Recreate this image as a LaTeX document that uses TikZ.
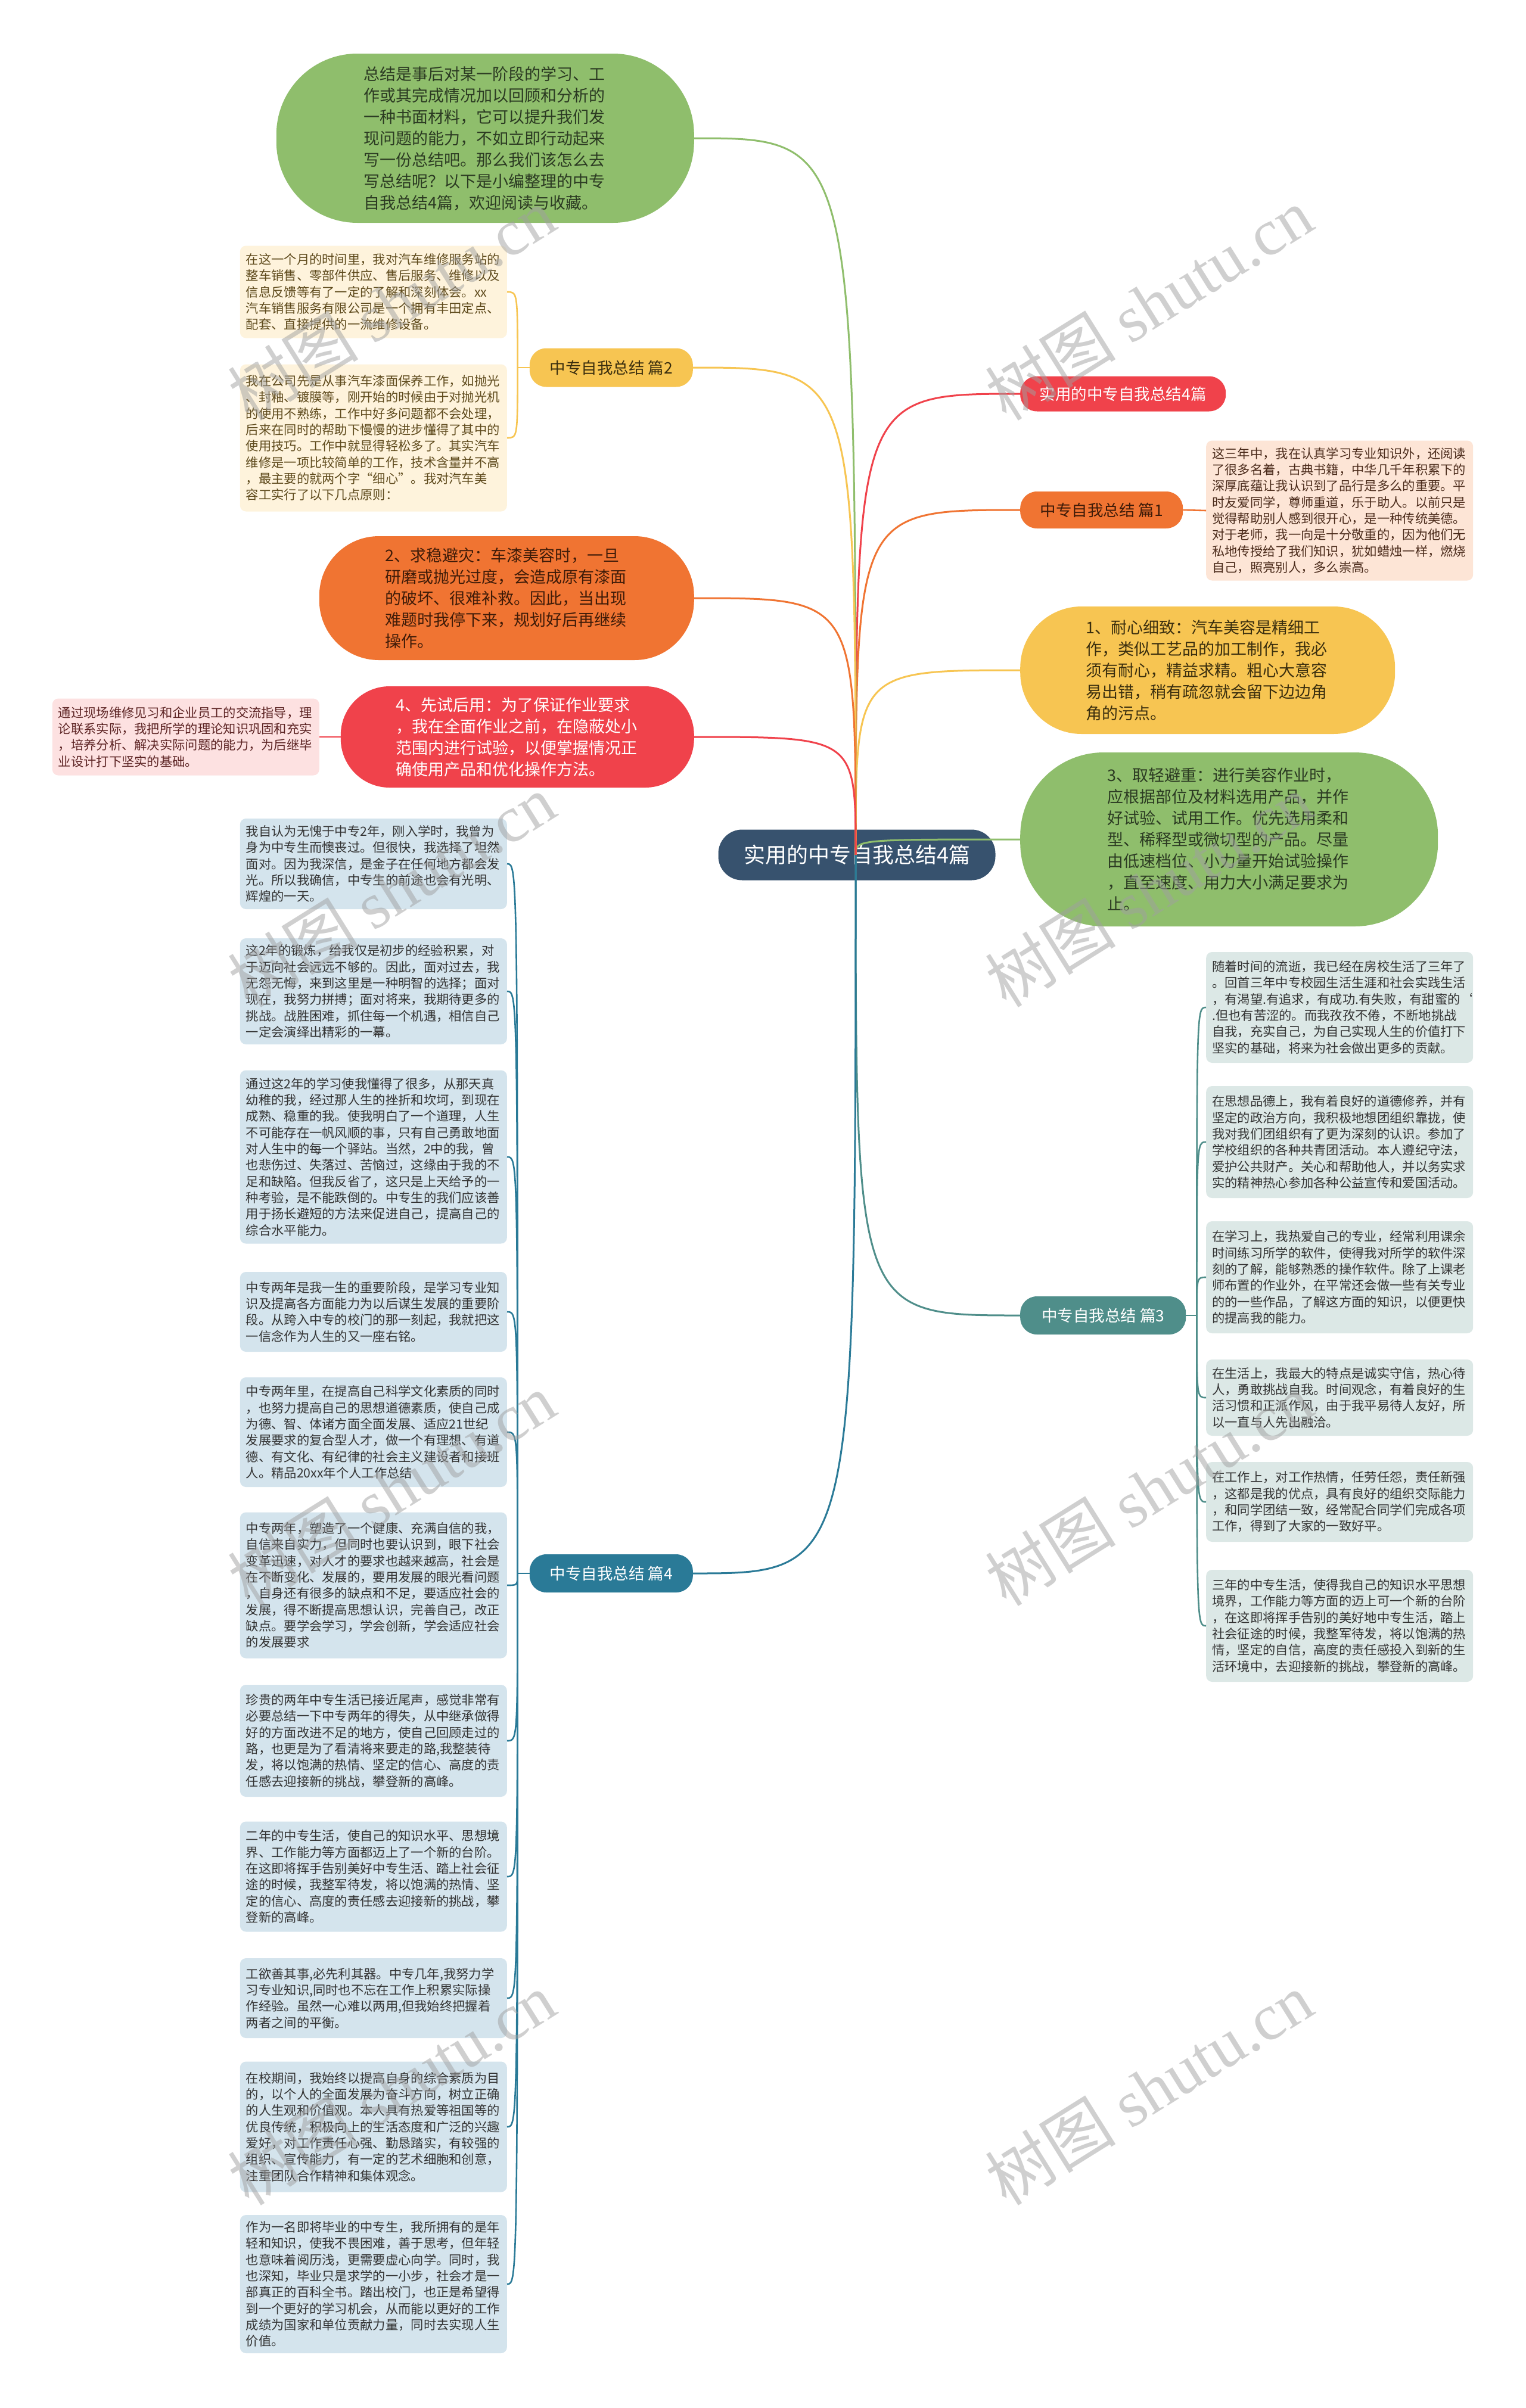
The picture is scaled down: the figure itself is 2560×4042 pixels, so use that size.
\documentclass[tikz,border=0pt]{standalone}
\usepackage{fontspec}
\setmainfont{Noto Sans CJK SC}
\newfontfamily\wmserif{Liberation Serif}
\usetikzlibrary{calc,backgrounds}

\definecolor{rootblue}{HTML}{37526E}
\definecolor{brred}{HTML}{F0424B}
\definecolor{brorange}{HTML}{F07432}
\definecolor{bryellow}{HTML}{F7C552}
\definecolor{brgreen}{HTML}{8FBE6C}
\definecolor{brteal}{HTML}{4F8E8A}
\definecolor{brblue}{HTML}{2A7A97}
\definecolor{lfcream}{HTML}{FEF3DC}
\definecolor{lfpeach}{HTML}{FDE5D6}
\definecolor{lfpink}{HTML}{FDE1E1}
\definecolor{lfteal}{HTML}{DCE8E6}
\definecolor{lfblue}{HTML}{D4E4ED}
\definecolor{txbrown}{HTML}{5E4A1C}
\definecolor{txpeach}{HTML}{4A2A1A}
\definecolor{txpink}{HTML}{5C2323}
\definecolor{txorange}{HTML}{3E1B08}
\definecolor{txyellow}{HTML}{3A2E0E}
\definecolor{txgreen}{HTML}{2B3A22}
\definecolor{txdark}{HTML}{333333}
\definecolor{wmgray}{HTML}{A0A0A0}

\tikzset{
  leaf/.style={rounded corners=10pt, inner xsep=10pt, inner ysep=6pt,
    text width=428pt, align=left, font=\fontsize{21.3}{27.3}\selectfont},
  bubble/.style={inner sep=0pt, text width=408pt, align=left,
    font=\fontsize{27}{36}\selectfont},
  topic/.style={rounded corners=28pt, inner sep=0pt, align=center,
    font=\fontsize{26.5}{30}\selectfont},
  link/.style={line width=3pt},
  twig/.style={line width=2.6pt},
  wmark/.style={rotate=32, text=wmgray, opacity=0.5,
    font=\fontsize{110}{110}\selectfont}
}

\begin{document}
\begin{tikzpicture}[x=1pt,y=-1pt]
  \useasboundingbox (0,0) rectangle (2560,4042);
  \begin{scope}[on background layer]
    \fill[white] (0,0) rectangle (2560,4042);
  \end{scope}

  % root
  \node[rounded corners=40pt, fill=rootblue, text=white, minimum width=465pt,
    minimum height=85pt, font=\fontsize{36}{40}\selectfont] (root) at (1438,1435)
    {实用的中专自我总结4篇};
  \coordinate (hub) at (1436,1435);

  % right side
  \node[topic, fill=brred, text=white, minimum width=345pt, minimum height=59pt,
    anchor=west] (title) at (1712,661) {实用的中专自我总结4篇};
  \node[topic, fill=brorange, text=txorange, minimum width=273pt, minimum height=62pt,
    anchor=west] (sum1) at (1712,856) {中专自我总结 篇1};
  \node[leaf, fill=lfpeach, text=txpeach, minimum height=235pt, anchor=west]
    (sum1a) at (2024,857) {这三年中，我在认真学习专业知识外，还阅读\\
    了很多名着，古典书籍，中华几千年积累下的\\
    深厚底蕴让我认识到了品行是多么的重要。平\\
    时友爱同学，尊师重道，乐于助人。以前只是\\
    觉得帮助别人感到很开心，是一种传统美德。\\
    对于老师，我一向是十分敬重的，因为他们无\\
    私地传授给了我们知识，犹如蜡烛一样，燃烧\\
    自己，照亮别人，多么崇高。};
  \node[bubble, fill=bryellow, text=txyellow, rounded corners=103pt,
    minimum width=629pt, minimum height=214pt, anchor=west] (tip1) at (1712,1125)
    {1、耐心细致：汽车美容是精细工\\
    作，类似工艺品的加工制作，我必\\
    须有耐心，精益求精。粗心大意容\\
    易出错，稍有疏忽就会留下边边角\\
    角的污点。};
  \node[bubble, fill=brgreen, text=txgreen, rounded corners=140pt,
    minimum width=701pt, minimum height=292pt, anchor=west] (tip3) at (1712,1409)
    {3、取轻避重：进行美容作业时，\\
    应根据部位及材料选用产品，并作\\
    好试验、试用工作。优先选用柔和\\
    型、稀释型或微切型的产品。尽量\\
    由低速档位、小力量开始试验操作\\
    ，直至速度、用力大小满足要求为\\
    止。};
  \node[topic, fill=brteal, text=white, minimum width=278pt, minimum height=64pt,
    anchor=west] (sum3) at (1712,2208) {中专自我总结 篇3};
  \node[leaf, fill=lfteal, text=txdark, minimum height=186pt, anchor=west]
    (sum3a) at (2024,1691) {随着时间的流逝，我已经在房校生活了三年了\\
    。回首三年中专校园生活生涯和社会实践生活\\
    ，有渴望.有追求，有成功.有失败，有甜蜜的\symbol{96}\\
    .但也有苦涩的。而我孜孜不倦，不断地挑战\\
    自我，充实自己，为自己实现人生的价值打下\\
    坚实的基础，将来为社会做出更多的贡献。};
  \node[leaf, fill=lfteal, text=txdark, minimum height=188pt, anchor=west]
    (sum3b) at (2024,1917) {在思想品德上，我有着良好的道德修养，并有\\
    坚定的政治方向，我积极地想团组织靠拢，使\\
    我对我们团组织有了更为深刻的认识。参加了\\
    学校组织的各种共青团活动。本人遵纪守法，\\
    爱护公共财产。关心和帮助他人，并以务实求\\
    实的精神热心参加各种公益宣传和爱国活动。};
  \node[leaf, fill=lfteal, text=txdark, minimum height=188pt, anchor=west]
    (sum3c) at (2024,2144) {在学习上，我热爱自己的专业，经常利用课余\\
    时间练习所学的软件，使得我对所学的软件深\\
    刻的了解，能够熟悉的操作软件。除了上课老\\
    师布置的作业外，在平常还会做一些有关专业\\
    的的一些作品，了解这方面的知识，以便更快\\
    的提高我的能力。};
  \node[leaf, fill=lfteal, text=txdark, minimum height=128pt, anchor=west]
    (sum3d) at (2024,2346) {在生活上，我最大的特点是诚实守信，热心待\\
    人，勇敢挑战自我。时间观念，有着良好的生\\
    活习惯和正派作风，由于我平易待人友好，所\\
    以一直与人先出融洽。};
  \node[leaf, fill=lfteal, text=txdark, minimum height=134pt, anchor=west]
    (sum3e) at (2024,2521) {在工作上，对工作热情，任劳任怨，责任新强\\
    ，这都是我的优点，具有良好的组织交际能力\\
    ，和同学团结一致，经常配合同学们完成各项\\
    工作，得到了大家的一致好平。};
  \node[leaf, fill=lfteal, text=txdark, minimum height=188pt, anchor=west]
    (sum3f) at (2024,2729) {三年的中专生活，使得我自己的知识水平思想\\
    境界，工作能力等方面的迈上可一个新的台阶\\
    ，在这即将挥手告别的美好地中专生活，踏上\\
    社会征途的时候，我整军待发，将以饱满的热\\
    情，坚定的自信，高度的责任感投入到新的生\\
    活环境中，去迎接新的挑战，攀登新的高峰。};

  % left side
  \node[bubble, fill=brgreen, text=txgreen, rounded corners=136pt,
    minimum width=701pt, minimum height=284pt, anchor=east] (intro) at (1165,232)
    {总结是事后对某一阶段的学习、工\\
    作或其完成情况加以回顾和分析的\\
    一种书面材料，它可以提升我们发\\
    现问题的能力，不如立即行动起来\\
    写一份总结吧。那么我们该怎么去\\
    写总结呢？以下是小编整理的中专\\
    自我总结4篇，欢迎阅读与收藏。};
  \node[topic, fill=bryellow, text=txyellow, minimum width=274pt, minimum height=65pt,
    anchor=east] (sum2) at (1163,617) {中专自我总结 篇2};
  \node[leaf, fill=lfcream, text=txbrown, minimum height=155pt, anchor=east]
    (sum2a) at (851,490) {在这一个月的时间里，我对汽车维修服务站的\\
    整车销售、零部件供应、售后服务、维修以及\\
    信息反馈等有了一定的了解和深刻体会。xx\\
    汽车销售服务有限公司是一个拥有丰田定点、\\
    配套、直接提供的一流维修设备。};
  \node[leaf, fill=lfcream, text=txbrown, minimum height=247pt, anchor=east]
    (sum2b) at (851,735) {我在公司先是从事汽车漆面保养工作，如抛光\\
    、封釉、镀膜等，刚开始的时候由于对抛光机\\
    的使用不熟练，工作中好多问题都不会处理，\\
    后来在同时的帮助下慢慢的进步懂得了其中的\\
    使用技巧。工作中就显得轻松多了。其实汽车\\
    维修是一项比较简单的工作，技术含量并不高\\
    ，最主要的就两个字“细心”。我对汽车美\\
    容工实行了以下几点原则：};
  \node[bubble, fill=brorange, text=txorange, rounded corners=100pt,
    minimum width=629pt, minimum height=208pt, anchor=east] (tip2) at (1165,1004)
    {2、求稳避灾：车漆美容时，一旦\\
    研磨或抛光过度，会造成原有漆面\\
    的破坏、很难补救。因此，当出现\\
    难题时我停下来，规划好后再继续\\
    操作。};
  \node[bubble, fill=brred, text=white, rounded corners=82pt,
    minimum width=593pt, minimum height=170pt, anchor=east] (tip4) at (1165,1237)
    {4、先试后用：为了保证作业要求\\
    ，我在全面作业之前，在隐蔽处小\\
    范围内进行试验，以便掌握情况正\\
    确使用产品和优化操作方法。};
  \node[leaf, fill=lfpink, text=txpink, minimum height=129pt, anchor=east]
    (tip4a) at (536,1237) {通过现场维修见习和企业员工的交流指导，理\\
    论联系实际，我把所学的理论知识巩固和充实\\
    ，培养分析、解决实际问题的能力，为后继毕\\
    业设计打下坚实的基础。};
  \node[topic, fill=brblue, text=white, minimum width=274pt, minimum height=64pt,
    anchor=east] (sum4) at (1163,2641) {中专自我总结 篇4};
  \node[leaf, fill=lfblue, text=txdark, minimum height=152pt, anchor=east]
    (sum4a) at (851,1450) {我自认为无愧于中专2年，刚入学时，我曾为\\
    身为中专生而懊丧过。但很快，我选择了坦然\\
    面对。因为我深信，是金子在任何地方都会发\\
    光。所以我确信，中专生的前途也会有光明、\\
    辉煌的一天。};
  \node[leaf, fill=lfblue, text=txdark, minimum height=178pt, anchor=east]
    (sum4b) at (851,1664) {这2年的锻炼，给我仅是初步的经验积累，对\\
    于迈向社会远远不够的。因此，面对过去，我\\
    无怨无悔，来到这里是一种明智的选择；面对\\
    现在，我努力拼搏；面对将来，我期待更多的\\
    挑战。战胜困难，抓住每一个机遇，相信自己\\
    一定会演绎出精彩的一幕。};
  \node[leaf, fill=lfblue, text=txdark, minimum height=291pt, anchor=east]
    (sum4c) at (851,1942) {通过这2年的学习使我懂得了很多，从那天真\\
    幼稚的我，经过那人生的挫折和坎坷，到现在\\
    成熟、稳重的我。使我明白了一个道理，人生\\
    不可能存在一帆风顺的事，只有自己勇敢地面\\
    对人生中的每一个驿站。当然，2中的我，曾\\
    也悲伤过、失落过、苦恼过，这缘由于我的不\\
    足和缺陷。但我反省了，这只是上天给予的一\\
    种考验，是不能跌倒的。中专生的我们应该善\\
    用于扬长避短的方法来促进自己，提高自己的\\
    综合水平能力。};
  \node[leaf, fill=lfblue, text=txdark, minimum height=134pt, anchor=east]
    (sum4d) at (851,2202) {中专两年是我一生的重要阶段，是学习专业知\\
    识及提高各方面能力为以后谋生发展的重要阶\\
    段。从跨入中专的校门的那一刻起，我就把这\\
    一信念作为人生的又一座右铭。};
  \node[leaf, fill=lfblue, text=txdark, minimum height=184pt, anchor=east]
    (sum4e) at (851,2404) {中专两年里，在提高自己科学文化素质的同时\\
    ，也努力提高自己的思想道德素质，使自己成\\
    为德、智、体诸方面全面发展、适应21世纪\\
    发展要求的复合型人才，做一个有理想、有道\\
    德、有文化、有纪律的社会主义建设者和接班\\
    人。精品20xx年个人工作总结};
  \node[leaf, fill=lfblue, text=txdark, minimum height=245pt, anchor=east]
    (sum4f) at (851,2661) {中专两年，塑造了一个健康、充满自信的我，\\
    自信来自实力，但同时也要认识到，眼下社会\\
    变革迅速，对人才的要求也越来越高，社会是\\
    在不断变化、发展的，要用发展的眼光看问题\\
    ，自身还有很多的缺点和不足，要适应社会的\\
    发展，得不断提高思想认识，完善自己，改正\\
    缺点。要学会学习，学会创新，学会适应社会\\
    的发展要求};
  \node[leaf, fill=lfblue, text=txdark, minimum height=188pt, anchor=east]
    (sum4g) at (851,2922) {珍贵的两年中专生活已接近尾声，感觉非常有\\
    必要总结一下中专两年的得失，从中继承做得\\
    好的方面改进不足的地方，使自己回顾走过的\\
    路，也更是为了看清将来要走的路,我整装待\\
    发，将以饱满的热情、坚定的信心、高度的责\\
    任感去迎接新的挑战，攀登新的高峰。};
  \node[leaf, fill=lfblue, text=txdark, minimum height=185pt, anchor=east]
    (sum4h) at (851,3150) {二年的中专生活，使自己的知识水平、思想境\\
    界、工作能力等方面都迈上了一个新的台阶。\\
    在这即将挥手告别美好中专生活、踏上社会征\\
    途的时候，我整军待发，将以饱满的热情、坚\\
    定的信心、高度的责任感去迎接新的挑战，攀\\
    登新的高峰。};
  \node[leaf, fill=lfblue, text=txdark, minimum height=134pt, anchor=east]
    (sum4i) at (851,3354) {工欲善其事,必先利其器。中专几年,我努力学\\
    习专业知识,同时也不忘在工作上积累实际操\\
    作经验。虽然一心难以两用,但我始终把握着\\
    两者之间的平衡。};
  \node[leaf, fill=lfblue, text=txdark, minimum height=219pt, anchor=east]
    (sum4j) at (851,3570) {在校期间，我始终以提高自身的综合素质为目\\
    的，以个人的全面发展为奋斗方向，树立正确\\
    的人生观和价值观。本人具有热爱等祖国等的\\
    优良传统，积极向上的生活态度和广泛的兴趣\\
    爱好，对工作责任心强、勤恳踏实，有较强的\\
    组织、宣传能力，有一定的艺术细胞和创意，\\
    注重团队合作精神和集体观念。};
  \node[leaf, fill=lfblue, text=txdark, minimum height=232pt, anchor=east]
    (sum4k) at (851,3834) {作为一名即将毕业的中专生，我所拥有的是年\\
    轻和知识，使我不畏困难，善于思考，但年轻\\
    也意味着阅历浅，更需要虚心向学。同时，我\\
    也深知，毕业只是求学的一小步，社会才是一\\
    部真正的百科全书。踏出校门，也正是希望得\\
    到一个更好的学习机会，从而能以更好的工作\\
    成绩为国家和单位贡献力量，同时去实现人生\\
    价值。};

  % junctions of the leaf brackets
  \coordinate (j2) at ([xshift=-20pt]sum2.west);
  \coordinate (j3) at ([xshift=18pt]sum3.east);
  \coordinate (j4) at ([xshift=-20pt]sum4.west);

  % main branches, drawn over the root as in the map
  \draw[link, brred] (hub) .. controls (hub |- title.west) .. (title.west);
  \draw[link, brorange] (hub) .. controls (hub |- sum1.west) .. (sum1.west);
  \draw[link, bryellow] (hub) .. controls (hub |- tip1.west) .. (tip1.west);
  \draw[link, brgreen] (hub) .. controls (hub |- tip3.west) .. (tip3.west);
  \draw[link, brteal] (hub) .. controls (hub |- sum3.west) .. (sum3.west);
  \draw[link, brgreen] (hub) .. controls (hub |- intro.east) .. (intro.east);
  \draw[link, bryellow] (hub) .. controls (hub |- sum2.east) .. (sum2.east);
  \draw[link, brorange] (hub) .. controls (hub |- tip2.east) .. (tip2.east);
  \draw[link, brred] (hub) .. controls (hub |- tip4.east) .. (tip4.east);
  \draw[link, brblue] (hub) .. controls (hub |- sum4.east) .. (sum4.east);
  % leaves
  \draw[twig, brorange] (sum1.east) -- (sum1a.west);
  \draw[twig, brred] (tip4.west) -- (tip4a.east);
  \draw[twig, bryellow] (sum2.west) -- (j2);
  \foreach \n in {sum2a,sum2b}
    \draw[twig, bryellow] (j2) .. controls (j2 |- \n.east) .. (\n.east);
  \draw[twig, brteal] (sum3.east) -- (j3);
  \foreach \n in {sum3a,sum3b,sum3c,sum3d,sum3e,sum3f}
    \draw[twig, brteal] (j3) .. controls (j3 |- \n.west) .. (\n.west);
  \draw[twig, brblue] (sum4.west) -- (j4);
  \foreach \n in {sum4a,sum4b,sum4c,sum4d,sum4e,sum4f,sum4g,sum4h,sum4i,sum4j,sum4k}
    \draw[twig, brblue] (j4) .. controls (j4 |- \n.east) .. (\n.east);

  % watermark
  \foreach \x in {657,1928}
    \foreach \y in {510,1495,2500,3506}
      \node[wmark] at (\x,\y) {树图 {\wmserif shutu.cn}};
\end{tikzpicture}
\end{document}
